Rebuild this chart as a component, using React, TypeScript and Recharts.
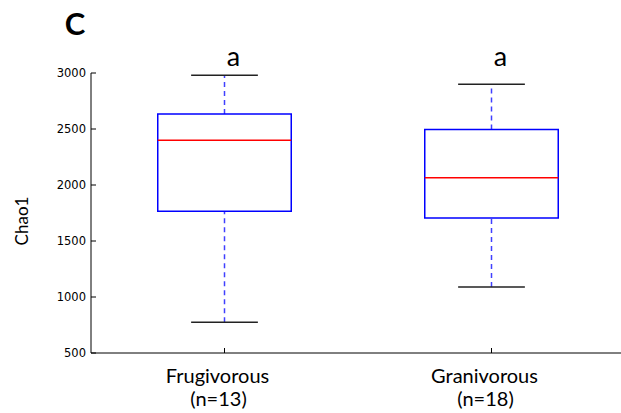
import React from 'react';
import { ComposedChart, XAxis, YAxis, ReferenceArea, ReferenceLine, ReferenceDot } from 'recharts';

const categories = ['Frugivorous', 'Granivorous'];
const sampleSizes = [13, 18];
const whiskerLow = [775, 1090];
const quartile1 = [1765, 1705];
const medians = [2400, 2065];
const quartile3 = [2635, 2495];
const whiskerHigh = [2980, 2900];
const groupLetters = ['a', 'a'];
const yTicks = [500, 1000, 1500, 2000, 2500, 3000];

const BLUE = '#0000ff';
const RED = '#ff0000';
const CAP = '#222';
const BOX_HALF = 0.25;
const CAP_HALF = 0.125;
const TICK_FONT = 'DejaVu Sans, sans-serif';
const LABEL_FONT = 'Lato, "Open Sans", sans-serif';

const rows = categories.map((name, i) => ({
  pos: i + 1,
  name,
  n: sampleSizes[i],
  lo: whiskerLow[i],
  q1: quartile1[i],
  med: medians[i],
  q3: quartile3[i],
  hi: whiskerHigh[i],
  letter: groupLetters[i],
}));

function LeftTick(props: any) {
  const { x, y, payload } = props;
  return (
    <g>
      <line x1={x + 5} x2={x + 10} y1={y} y2={y} stroke="#000" />
      <text x={x} y={y} dy="0.36em" textAnchor="end" fontFamily={TICK_FONT} fontSize={11.5} fill="#000">
        {payload.value}
      </text>
    </g>
  );
}

function RightTick(props: any) {
  const { x, y } = props;
  return <line x1={x - 5} x2={x} y1={y} y2={y} stroke="#000" />;
}

function TopTick(props: any) {
  const { x, y } = props;
  return <line x1={x} x2={x} y1={y} y2={y + 5} stroke="#000" />;
}

function BottomTick(props: any) {
  const { x, y, payload } = props;
  const row = rows[payload.value - 1];
  if (!row) return null;
  return (
    <g>
      <line x1={x} x2={x} y1={y} y2={y - 5} stroke="#000" />
      <text x={x - 7} y={y + 30} textAnchor="middle" fontFamily={LABEL_FONT} fontSize={20} fill="#000">
        {row.name}
      </text>
      <text x={x - 6} y={y + 53} textAnchor="middle" fontFamily={LABEL_FONT} fontSize={20} fill="#000">
        (n={row.n})
      </text>
    </g>
  );
}

export default function App() {
  return (
    <div style={{ position: 'absolute', left: 0, top: 0, width: 621, height: 413, overflow: 'hidden', background: '#fff' }}>
      <ComposedChart width={630} height={413} data={rows} margin={{ top: 73, right: 0, bottom: 0, left: 31 }}>
        <XAxis
          xAxisId={0}
          dataKey="pos"
          type="number"
          domain={[0.5, 2.5]}
          ticks={[1, 2]}
          height={60}
          tickSize={0}
          tickMargin={0}
          tickLine={false}
          axisLine={{ stroke: '#000' }}
          tick={<BottomTick />}
          allowDataOverflow
        />
        <XAxis
          xAxisId="top"
          orientation="top"
          dataKey="pos"
          type="number"
          domain={[0.5, 2.5]}
          ticks={[1, 2]}
          height={0}
          tickSize={0}
          tickMargin={0}
          tickLine={false}
          axisLine={{ stroke: '#000' }}
          tick={<TopTick />}
        />
        <YAxis
          yAxisId={0}
          type="number"
          domain={[500, 3000]}
          ticks={yTicks}
          width={60}
          tickSize={0}
          tickMargin={5}
          tickLine={false}
          axisLine={{ stroke: '#000' }}
          tick={<LeftTick />}
          allowDataOverflow
        />
        <YAxis
          yAxisId="right"
          orientation="right"
          type="number"
          domain={[500, 3000]}
          ticks={yTicks}
          width={5}
          tickSize={0}
          tickMargin={0}
          tickLine={false}
          axisLine={{ stroke: '#000' }}
          tick={<RightTick />}
        />

        {/* whiskers */}
        {rows.map((r) => (
          <ReferenceLine
            key={`wu-${r.pos}`}
            segment={[{ x: r.pos, y: r.q3 }, { x: r.pos, y: r.hi }]}
            stroke={BLUE}
            strokeOpacity={0.75}
            strokeWidth={1.5}
            strokeDasharray="5 4"
          />
        ))}
        {rows.map((r) => (
          <ReferenceLine
            key={`wl-${r.pos}`}
            segment={[{ x: r.pos, y: r.lo }, { x: r.pos, y: r.q1 }]}
            stroke={BLUE}
            strokeOpacity={0.75}
            strokeWidth={1.5}
            strokeDasharray="5 4"
          />
        ))}

        {/* boxes */}
        {rows.map((r) => (
          <ReferenceArea
            key={`box-${r.pos}`}
            x1={r.pos - BOX_HALF}
            x2={r.pos + BOX_HALF}
            y1={r.q1}
            y2={r.q3}
            fill="#fff"
            fillOpacity={0}
            stroke={BLUE}
            strokeWidth={1.5}
          />
        ))}

        {/* medians */}
        {rows.map((r) => (
          <ReferenceLine
            key={`med-${r.pos}`}
            segment={[{ x: r.pos - BOX_HALF, y: r.med }, { x: r.pos + BOX_HALF, y: r.med }]}
            stroke={RED}
            strokeWidth={1.5}
          />
        ))}

        {/* caps */}
        {rows.map((r) => (
          <ReferenceLine
            key={`capu-${r.pos}`}
            segment={[{ x: r.pos - CAP_HALF, y: r.hi }, { x: r.pos + CAP_HALF, y: r.hi }]}
            stroke={CAP}
            strokeWidth={1.5}
          />
        ))}
        {rows.map((r) => (
          <ReferenceLine
            key={`capl-${r.pos}`}
            segment={[{ x: r.pos - CAP_HALF, y: r.lo }, { x: r.pos + CAP_HALF, y: r.lo }]}
            stroke={CAP}
            strokeWidth={1.5}
          />
        ))}

        {/* significance letters */}
        {rows.map((r) => (
          <ReferenceDot
            key={`let-${r.pos}`}
            x={r.pos}
            y={3000}
            r={0}
            ifOverflow="visible"
            shape={(p: any) => (
              <text x={p.cx + 9} y={p.cy - 7} textAnchor="middle" fontFamily={LABEL_FONT} fontSize={27} fill="#000">
                {r.letter}
              </text>
            )}
          />
        ))}
      </ComposedChart>

      <svg width={621} height={413} style={{ position: 'absolute', left: 0, top: 0, pointerEvents: 'none' }}>
        <text x={75} y={35} textAnchor="middle" fontFamily={LABEL_FONT} fontWeight="bold" fontSize={31} fill="#000">
          C
        </text>
        <text
          x={28}
          y={221}
          transform="rotate(-90 28 221)"
          textAnchor="middle"
          fontFamily={LABEL_FONT}
          fontSize={17}
          fill="#000"
        >
          Chao1
        </text>
      </svg>
    </div>
  );
}
